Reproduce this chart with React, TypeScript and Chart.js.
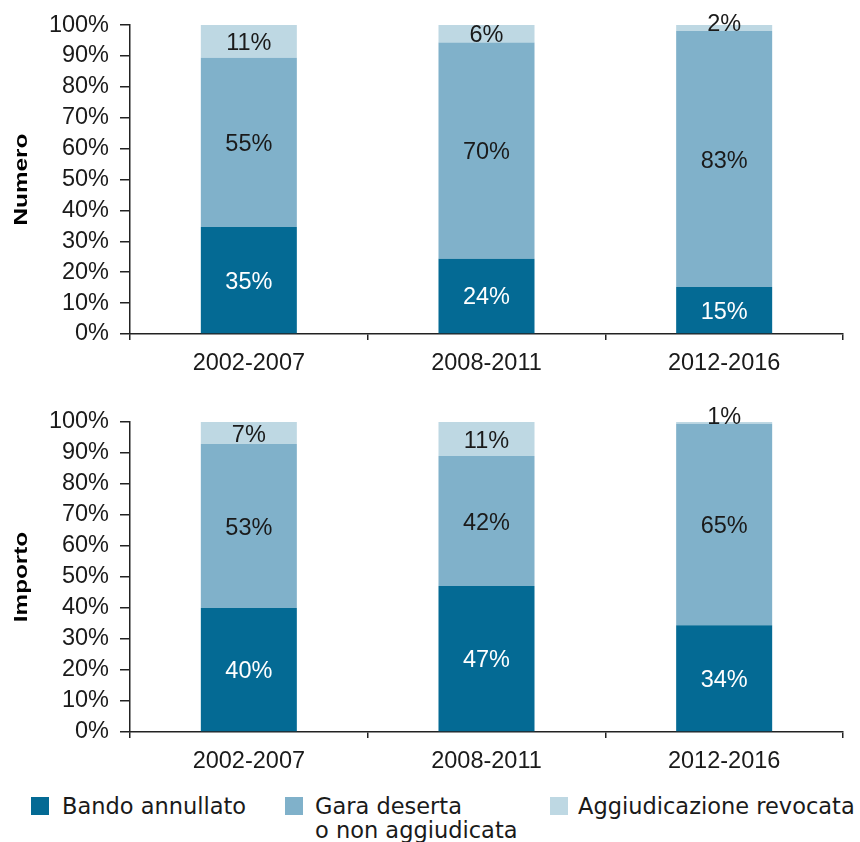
import React, { useEffect, useRef } from "react";
import { Chart, registerables } from "chart.js";

Chart.register(...registerables);

const categories = ["2002-2007", "2008-2011", "2012-2016"];
const seriesNames = ["Bando annullato", "Gara deserta\no non aggiudicata", "Aggiudicazione revocata"];
const seriesColors = ["#046a94", "#80b1ca", "#bed8e3"];
const labelColors = ["#ffffff", "#1a1a1a", "#1a1a1a"];

const numeroBando = [34.6, 24.4, 15.2];
const numeroGara = [54.8, 70.0, 82.9];
const numeroRevocata = [10.6, 5.6, 1.9];

const importoBando = [40.0, 47.1, 34.4];
const importoGara = [52.9, 41.9, 65.0];
const importoRevocata = [7.1, 11.0, 0.6];

const yTicks = [0, 10, 20, 30, 40, 50, 60, 70, 80, 90, 100];

const FONT = "'Liberation Sans', Arial, sans-serif";
const LEGEND_FONT = "'DejaVu Sans', sans-serif";
const INK = "#1a1a1a";

const labelPlugin = {
  id: "segLabels",
  afterDatasetsDraw(chart: any) {
    const ctx = chart.ctx;
    ctx.save();
    ctx.font = `23.5px ${FONT}`;
    ctx.textAlign = "center";
    ctx.textBaseline = "alphabetic";
    chart.data.datasets.forEach((ds: any, di: number) => {
      const meta = chart.getDatasetMeta(di);
      meta.data.forEach((el: any, i: number) => {
        const v = ds.data[i];
        const top = Math.min(el.y, el.base);
        const bottom = Math.max(el.y, el.base);
        const h = bottom - top;
        const cy = (top + bottom) / 2 - Math.max(0, (16 - h) / 2);
        ctx.fillStyle = labelColors[di];
        ctx.fillText(Math.round(v) + "%", el.x, cy + 8.5);
      });
    });
    ctx.restore();
  },
};

const titlePlugin = {
  id: "yTitle",
  afterDraw(chart: any) {
    const t = chart.options.plugins.yTitle?.text;
    if (!t) return;
    const ctx = chart.ctx;
    const { top, bottom } = chart.chartArea;
    ctx.save();
    ctx.translate(27, (top + bottom) / 2);
    ctx.rotate(-Math.PI / 2);
    ctx.scale(1.35, 1);
    ctx.font = `bold 18px ${FONT}`;
    ctx.fillStyle = "#000";
    ctx.textAlign = "center";
    ctx.textBaseline = "alphabetic";
    ctx.fillText(t, 0, 0);
    ctx.restore();
  },
};

function makeConfig(title: string, a: number[], b: number[], c: number[], padTop: number, xHeight: number): any {
  return {
    type: "bar",
    data: {
      labels: categories,
      datasets: [a, b, c].map((d, i) => ({
        label: seriesNames[i],
        data: d,
        backgroundColor: seriesColors[i],
        borderWidth: 0,
        barPercentage: 0.404,
        categoryPercentage: 1,
      })),
    },
    plugins: [labelPlugin, titlePlugin],
    options: {
      responsive: false,
      animation: false,
      layout: { padding: { top: padTop, right: 17, left: 0, bottom: 0 } },
      plugins: {
        legend: { display: false },
        tooltip: { enabled: false },
        yTitle: { text: title },
      },
      scales: {
        x: {
          stacked: true,
          offset: true,
          grid: { offset: true, drawOnChartArea: false, drawTicks: true, tickLength: 6, color: "#222", lineWidth: 1.5 },
          border: { display: true, color: "#222", width: 1.5 },
          ticks: { font: { family: FONT, size: 23.5 }, color: INK, padding: 9 },
          afterFit: (s: any) => {
            s.height = xHeight;
          },
        },
        y: {
          stacked: true,
          min: 0,
          max: 100,
          afterBuildTicks: (s: any) => {
            s.ticks = yTicks.map((v) => ({ value: v }));
          },
          ticks: {
            font: { family: FONT, size: 23.5 },
            color: INK,
            padding: 11,
            autoSkip: false,
            callback: (v: any) => v + "%",
          },
          grid: { drawOnChartArea: false, drawTicks: true, tickLength: 10, color: "#222", lineWidth: 1.5 },
          border: { display: true, color: "#222", width: 1.5 },
          afterFit: (s: any) => {
            s.width = 130;
          },
        },
      },
    },
  };
}

function ChartBox({ config, top, height }: { config: any; top: number; height: number }) {
  const ref = useRef<HTMLCanvasElement>(null);
  useEffect(() => {
    if (!ref.current) return;
    const ch = new Chart(ref.current, config);
    return () => ch.destroy();
  }, []);
  return (
    <canvas
      ref={ref}
      width={860}
      height={height}
      style={{ position: "absolute", left: 0, top, width: 860, height }}
    />
  );
}

const legendPos = [
  { sx: 31, tx: 62 },
  { sx: 285, tx: 315 },
  { sx: 550, tx: 578 },
];

export default function App() {
  return (
    <div style={{ position: "absolute", left: 0, top: 0, width: 860, height: 842, background: "#fff", overflow: "hidden" }}>
      <ChartBox config={makeConfig("Numero", numeroBando, numeroGara, numeroRevocata, 24, 41)} top={0} height={375} />
      <ChartBox config={makeConfig("Importo", importoBando, importoGara, importoRevocata, 47, 43)} top={375} height={400} />
      {seriesNames.map((n, i) => (
        <React.Fragment key={i}>
          <div
            style={{
              position: "absolute",
              left: legendPos[i].sx,
              top: 797,
              width: 18,
              height: 18,
              background: seriesColors[i],
            }}
          />
          <div
            style={{
              position: "absolute",
              left: legendPos[i].tx,
              top: 794,
              fontFamily: LEGEND_FONT,
              fontSize: 22.5,
              lineHeight: "24px",
              color: INK,
              whiteSpace: "pre",
            }}
          >
            {n}
          </div>
        </React.Fragment>
      ))}
    </div>
  );
}
